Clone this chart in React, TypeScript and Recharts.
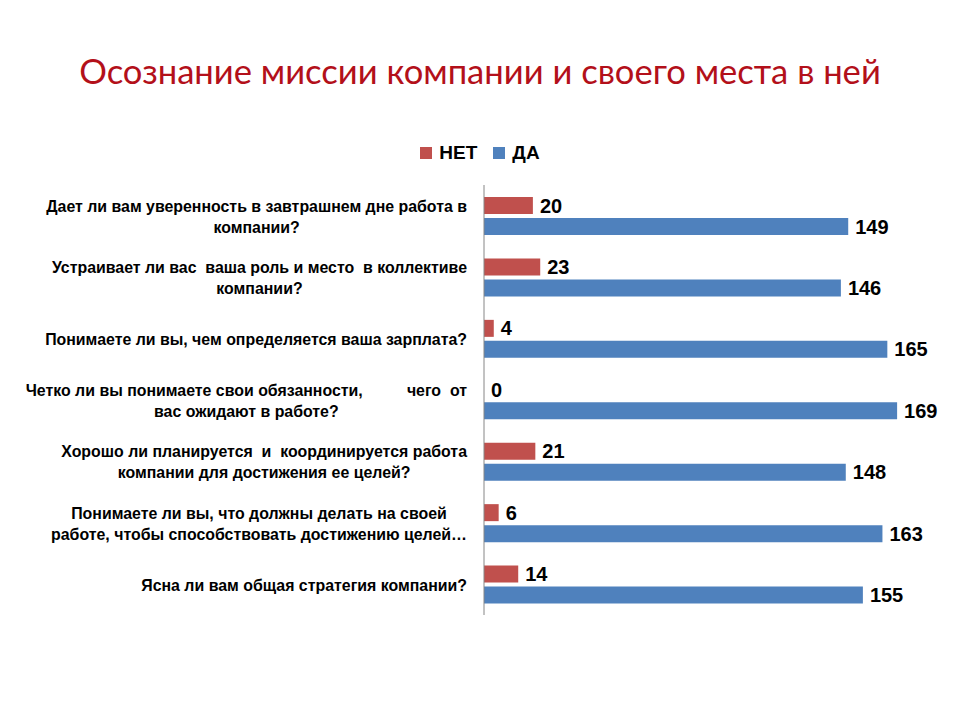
import React from "react";
import { BarChart, Bar, XAxis, YAxis, LabelList } from "recharts";

const categories = [
  "Дает ли вам уверенность в завтрашнем дне работа в|компании?",
  "Устраивает ли вас  ваша роль и место  в коллективе|компании?",
  "Понимаете ли вы, чем определяется ваша зарплата?",
  "Четко ли вы понимаете свои обязанности,          чего  от|вас ожидают в работе?",
  "Хорошо ли планируется  и  координируется работа|компании для достижения ее целей?",
  "Понимаете ли вы, что должны делать на своей|работе, чтобы способствовать достижению целей…",
  "Ясна ли вам общая стратегия компании?",
];
const netValues = [20, 23, 4, 0, 21, 6, 14];
const daValues = [149, 146, 165, 169, 148, 163, 155];
const seriesNames = ["НЕТ", "ДА"];
const colors = ["#C0504D", "#4F81BD"];

const data = categories.map((c, i) => ({ name: c, net: netValues[i], da: daValues[i] }));

const LABEL_FONT = "bold 15.9px 'Liberation Sans', Arial, sans-serif";
let ctx: CanvasRenderingContext2D | null = null;
function measure(t: string): number {
  if (!ctx) {
    const c = document.createElement("canvas");
    ctx = c.getContext("2d");
  }
  if (!ctx) return t.length * 8;
  ctx.font = LABEL_FONT;
  return ctx.measureText(t).width;
}

const CategoryTick = (props: any) => {
  const { x, y, payload } = props;
  const lines: string[] = String(payload.value).split("|");
  const maxW = Math.max(...lines.map(measure));
  const right = x - 9;
  const cx = right - maxW / 2;
  const lh = 21;
  const startY = y - ((lines.length - 1) * lh) / 2 + 1;
  return (
    <g>
      {lines.map((l, i) => (
        <text
          key={i}
          x={cx}
          y={startY + i * lh}
          textAnchor="middle"
          dominantBaseline="central"
          style={{ font: LABEL_FONT, whiteSpace: "pre" }}
          xmlSpace="preserve"
          fill="#000"
        >
          {l}
        </text>
      ))}
    </g>
  );
};

const ValueLabel = (props: any) => {
  const { x, y, width, height, value } = props;
  return (
    <text
      x={Number(x) + Number(width || 0) + 7}
      y={Number(y) + Number(height) / 2}
      dominantBaseline="central"
      textAnchor="start"
      style={{ fontFamily: "'Liberation Sans', Arial, sans-serif", fontWeight: "bold", fontSize: 20 }}
      fill="#000"
    >
      {String(value)}
    </text>
  );
};

export default function App() {
  return (
    <div style={{ position: "absolute", left: 0, top: 0, width: 960, height: 720, background: "#fff" }}>
      <div
        style={{
          position: "absolute",
          left: 0,
          top: 50,
          width: 960,
          textAlign: "center",
          fontFamily: "Lato, 'Open Sans', sans-serif",
          fontSize: 34.6,
          color: "#B3101A",
        }}
      >
        Осознание миссии компании и своего места в ней
      </div>
      <div
        style={{
          position: "absolute",
          left: 0,
          top: 142,
          width: 960,
          display: "flex",
          justifyContent: "center",
          gap: 16,
          fontFamily: "'Liberation Sans', Arial, sans-serif",
          fontWeight: "bold",
          fontSize: 19,
        }}
      >
        {seriesNames.map((n, i) => (
          <div key={n} style={{ display: "flex", alignItems: "center", gap: 7 }}>
            <span style={{ display: "inline-block", width: 12, height: 12, background: colors[i] }} />
            <span>{n}</span>
          </div>
        ))}
      </div>
      <BarChart
        width={960}
        height={720}
        data={data}
        layout="vertical"
        margin={{ top: 185, right: 36, bottom: 105, left: 0 }}
        barSize={17}
        barGap={4}
      >
        <XAxis type="number" domain={[0, 180]} hide />
        <YAxis
          type="category"
          dataKey="name"
          width={484}
          axisLine={{ stroke: "#868686" }}
          tickLine={false}
          tick={<CategoryTick />}
          interval={0}
        />
        <Bar dataKey="net" name={seriesNames[0]} fill={colors[0]} minPointSize={0.01} isAnimationActive={false}>
          <LabelList dataKey="net" content={<ValueLabel />} />
        </Bar>
        <Bar dataKey="da" name={seriesNames[1]} fill={colors[1]} isAnimationActive={false}>
          <LabelList dataKey="da" content={<ValueLabel />} />
        </Bar>
      </BarChart>
    </div>
  );
}
